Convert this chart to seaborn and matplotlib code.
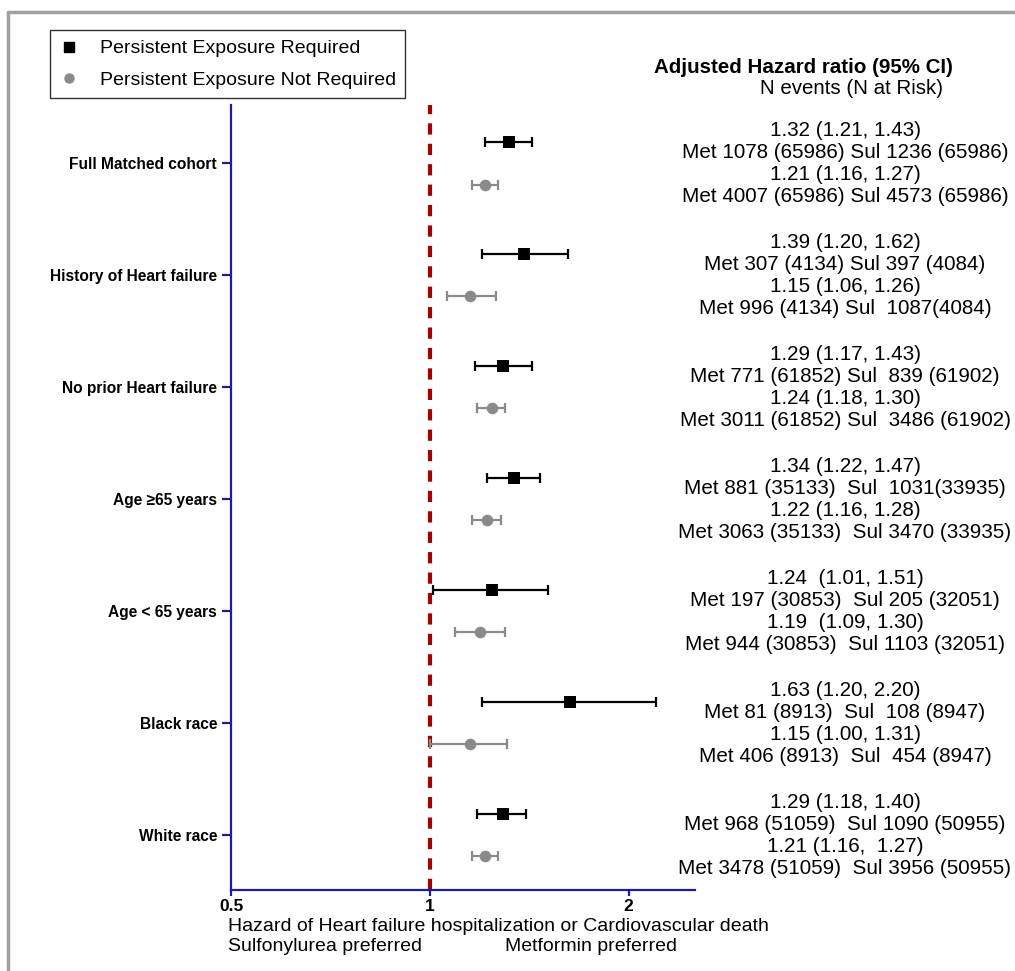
import numpy as np
import pandas as pd
import seaborn as sns
import matplotlib.pyplot as plt
from matplotlib.lines import Line2D
from matplotlib.transforms import blended_transform_factory

#data
groups = ["Full Matched cohort", "History of Heart failure", "No prior Heart failure",
          "Age \u226565 years", "Age < 65 years", "Black race", "White race"]
req_hr = [1.32, 1.39, 1.29, 1.34, 1.24, 1.63, 1.29]
req_lo = [1.21, 1.20, 1.17, 1.22, 1.01, 1.20, 1.18]
req_hi = [1.43, 1.62, 1.43, 1.47, 1.51, 2.20, 1.40]
notreq_hr = [1.21, 1.15, 1.24, 1.22, 1.19, 1.15, 1.21]
notreq_lo = [1.16, 1.06, 1.18, 1.16, 1.09, 1.00, 1.16]
notreq_hi = [1.27, 1.26, 1.30, 1.28, 1.30, 1.31, 1.27]

req_txt = ["1.32 (1.21, 1.43)", "1.39 (1.20, 1.62)", "1.29 (1.17, 1.43)", "1.34 (1.22, 1.47)",
           "1.24  (1.01, 1.51)", "1.63 (1.20, 2.20)", "1.29 (1.18, 1.40)"]
req_n = ["Met 1078 (65986) Sul 1236 (65986)", "Met 307 (4134) Sul 397 (4084)",
         "Met 771 (61852) Sul  839 (61902)", "Met 881 (35133)  Sul  1031(33935)",
         "Met 197 (30853)  Sul 205 (32051)", "Met 81 (8913)  Sul  108 (8947)",
         "Met 968 (51059)  Sul 1090 (50955)"]
notreq_txt = ["1.21 (1.16, 1.27)", "1.15 (1.06, 1.26)", "1.24 (1.18, 1.30)", "1.22 (1.16, 1.28)",
              "1.19  (1.09, 1.30)", "1.15 (1.00, 1.31)", "1.21 (1.16,  1.27)"]
notreq_n = ["Met 4007 (65986) Sul 4573 (65986)", "Met 996 (4134) Sul  1087(4084)",
            "Met 3011 (61852) Sul  3486 (61902)", "Met 3063 (35133)  Sul 3470 (33935)",
            "Met 944 (30853)  Sul 1103 (32051)", "Met 406 (8913)  Sul  454 (8947)",
            "Met 3478 (51059)  Sul 3956 (50955)"]

lab_req = "Persistent Exposure Required"
lab_not = "Persistent Exposure Not Required"

#style
sns.set_style("white")
plt.rcParams['font.family'] = ['Liberation Sans', 'DejaVu Sans']
plt.rcParams['text.color'] = 'black'
plt.rcParams['xtick.labelcolor'] = 'black'
plt.rcParams['ytick.labelcolor'] = 'black'

blue = "#1c1c9c"
gray = "#8a8a8a"
red = "#a50000"

pos = np.arange(len(groups))
off = 0.19
df = pd.DataFrame({
    "hr": req_hr + notreq_hr,
    "lo": req_lo + notreq_lo,
    "hi": req_hi + notreq_hi,
    "y": list(pos - off) + list(pos + off),
    "exposure": [lab_req] * len(groups) + [lab_not] * len(groups),
})

fig = plt.figure(figsize=(10.15, 9.71), dpi=100)
ax = fig.add_axes([231 / 1015, 81 / 971, 464 / 1015, 785 / 971])

#reference line
ax.axvline(1, color=red, lw=3, linestyle=(0, (2.7, 2.2)), zorder=1)

#confidence intervals
for lab, col in [(lab_req, "black"), (lab_not, gray)]:
    d = df[df["exposure"] == lab]
    ax.errorbar(d["hr"], d["y"], xerr=[d["hr"] - d["lo"], d["hi"] - d["hr"]],
                fmt="none", ecolor=col, elinewidth=1.6, capsize=3.5, capthick=1.6, zorder=2)

sns.scatterplot(data=df[df["exposure"] == lab_req], x="hr", y="y", color="black",
                marker="s", s=80, linewidth=0, ax=ax, zorder=3, legend=False)
sns.scatterplot(data=df[df["exposure"] == lab_not], x="hr", y="y", color=gray,
                marker="o", s=70, linewidth=0, ax=ax, zorder=3, legend=False)

ax.set_xscale("log", base=2)
ax.set_xlim(0.5, 2.52)
ax.set_xticks([0.5, 1, 2])
ax.set_xticklabels(["0.5", "1", "2"], fontweight="bold", fontsize=12.5)
ax.minorticks_off()
ax.set_ylim(6.49, -0.52)
ax.set_yticks(pos)
ax.set_yticklabels(groups, fontweight="bold", fontsize=11.2)
ax.set_xlabel("")
ax.set_ylabel("")

for s in ["top", "right"]:
    ax.spines[s].set_visible(False)
for s in ["left", "bottom"]:
    ax.spines[s].set_color(blue)
    ax.spines[s].set_linewidth(1.6)
ax.tick_params(axis="y", direction="out", length=6.5, width=1.6, color=blue, pad=3.5, left=True)
ax.tick_params(axis="x", direction="out", length=4, width=1.6, color=blue, pad=2.5, bottom=True)

#right hand text
tr = blended_transform_factory(fig.transFigure, ax.transData)
cx = 845 / 1015
fs = 14.9
for i in pos:
    ax.text(cx, i - 0.295, req_txt[i], transform=tr, ha="center", va="center", fontsize=fs, clip_on=False)
    ax.text(cx, i - 0.098, req_n[i], transform=tr, ha="center", va="center", fontsize=fs, clip_on=False)
    ax.text(cx, i + 0.098, notreq_txt[i], transform=tr, ha="center", va="center", fontsize=fs, clip_on=False)
    ax.text(cx, i + 0.295, notreq_n[i], transform=tr, ha="center", va="center", fontsize=fs, clip_on=False)

ax.text(803 / 1015, -0.857, "Adjusted Hazard ratio (95% CI)", transform=tr, ha="center", va="center",
        fontsize=14.8, fontweight="bold", clip_on=False)
ax.text(852 / 1015, -0.67, "N events (N at Risk)", transform=tr, ha="center", va="center",
        fontsize=14.8, clip_on=False)

#axis captions
fig.text(228 / 1015, 1 - 926 / 971, "Hazard of Heart failure hospitalization or Cardiovascular death",
         ha="left", va="center", fontsize=14)
fig.text(228 / 1015, 1 - 946 / 971, "Sulfonylurea preferred", ha="left", va="center", fontsize=14)
fig.text(505 / 1015, 1 - 946 / 971, "Metformin preferred", ha="left", va="center", fontsize=14)

#legend
handles = [Line2D([], [], marker="s", color="black", linestyle="none", markersize=6.5),
           Line2D([], [], marker="o", color=gray, linestyle="none", markersize=6.5)]
leg = fig.legend(handles, [lab_req, lab_not], loc="upper left",
                 bbox_to_anchor=(50 / 1015, 1 - 30 / 971), frameon=True, fancybox=False,
                 edgecolor="black", fontsize=14, handlelength=1.0, handletextpad=1.05,
                 labelspacing=0.7, borderpad=0.5, borderaxespad=0)
leg.get_frame().set_linewidth(1.0)

#outer frame
fig.add_artist(Line2D([8 / 1015, 8 / 1015], [0, 1 - 12 / 971], color="#a0a0a0", lw=2.5))
fig.add_artist(Line2D([8 / 1015, 1.0], [1 - 12 / 971, 1 - 12 / 971], color="#a0a0a0", lw=2.5))

fig.savefig("out.png", dpi=100)
plt.close()
